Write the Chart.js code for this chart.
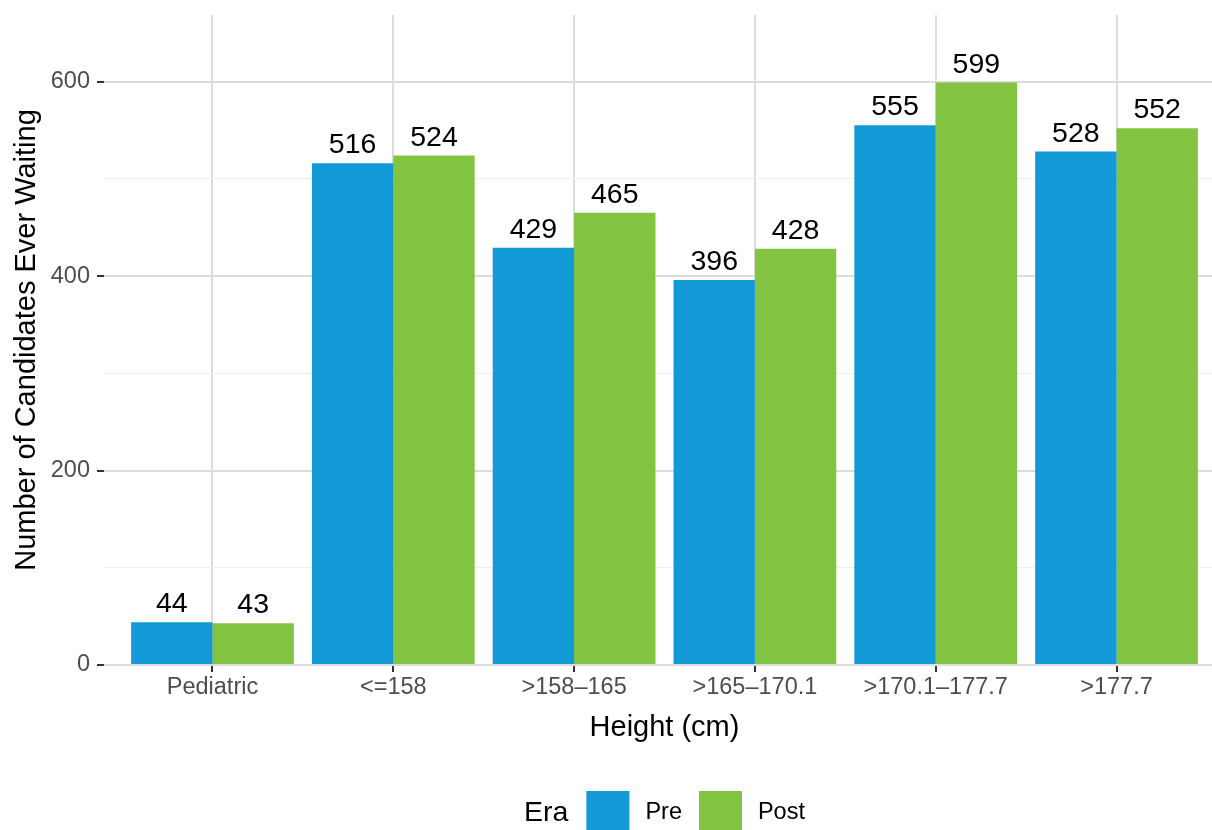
<!DOCTYPE html>
<html>
<head>
<meta charset="utf-8">
<script src="https://cdn.jsdelivr.net/npm/chart.js@4/dist/chart.umd.min.js"></script>
<style>
  html, body { margin: 0; padding: 0; background: #fff; overflow: hidden; }
  #chart { display: block; }
</style>
</head>
<body>
<canvas id="chart" width="1240" height="850" style="width:1240px;height:850px"></canvas>
<script>
"use strict";

const categories = ["Pediatric", "<=158", ">158\u2013165", ">165\u2013170.1", ">170.1\u2013177.7", ">177.7"];
const preValues = [44, 516, 429, 396, 555, 528];
const postValues = [43, 524, 465, 428, 599, 552];
const eraLabels = ["Pre", "Post"];
const yTicks = [0, 100, 200, 300, 400, 500, 600];
const yLabelStep = 200;

const FONT = '"Liberation Sans", Arial, Helvetica, sans-serif';
const colors = ["#1399d6", "#82c341"];
const majorGrid = "#dcdcdc";
const minorGrid = "#efefef";

function toPoints(values) {
  return values.map((value, index) => ({ x: index, y: value }));
}

const barLabels = {
  id: "barLabels",
  afterDatasetsDraw(chart) {
    const ctx = chart.ctx;
    ctx.save();
    ctx.font = `28.5px ${FONT}`;
    ctx.fillStyle = "#000";
    ctx.textAlign = "center";
    ctx.textBaseline = "alphabetic";
    chart.data.datasets.forEach((dataset, di) => {
      const meta = chart.getDatasetMeta(di);
      meta.data.forEach((bar, i) => {
        ctx.fillText(String(dataset.data[i].y), bar.x, bar.y - 10);
      });
    });
    ctx.restore();
  },
};

const eraLegend = {
  id: "eraLegend",
  afterDraw(chart) {
    const ctx = chart.ctx;
    const area = chart.chartArea;
    const keySize = 43;
    const keyTop = 791;
    const textY = 813;
    ctx.save();
    ctx.textBaseline = "middle";
    ctx.textAlign = "left";

    ctx.font = `28.5px ${FONT}`;
    const titleW = ctx.measureText("Era").width;
    ctx.font = `23.5px ${FONT}`;
    const labelW = eraLabels.map((label) => ctx.measureText(label).width);
    const total = titleW + 18 + labelW.reduce((sum, w) => sum + keySize + 16 + w, 0) + 17 * (eraLabels.length - 1);

    let x = (area.left + area.right) / 2 - total / 2;
    ctx.fillStyle = "#000";
    ctx.font = `28.5px ${FONT}`;
    ctx.fillText("Era", x, textY);
    x += titleW + 18;

    ctx.font = `23.5px ${FONT}`;
    eraLabels.forEach((label, i) => {
      ctx.fillStyle = colors[i];
      ctx.fillRect(x, keyTop, keySize, keySize);
      x += keySize + 16;
      ctx.fillStyle = "#000";
      ctx.fillText(label, x, textY);
      x += labelW[i] + 17;
    });
    ctx.restore();
  },
};

const isMajor = (value) => value % yLabelStep === 0;

new Chart(document.getElementById("chart"), {
  type: "bar",
  data: {
    datasets: [
      { label: eraLabels[0], data: toPoints(preValues), backgroundColor: colors[0] },
      { label: eraLabels[1], data: toPoints(postValues), backgroundColor: colors[1] },
    ],
  },
  options: {
    responsive: false,
    animation: false,
    devicePixelRatio: 1,
    categoryPercentage: 0.9,
    barPercentage: 1.0,
    layout: { padding: { left: 0, right: 15, top: 15, bottom: 95 } },
    plugins: {
      legend: { display: false },
      tooltip: { enabled: false },
    },
    scales: {
      x: {
        type: "linear",
        min: -0.6,
        max: 5.6,
        offset: false,
        afterBuildTicks: (scale) => {
          scale.ticks = categories.map((_, i) => ({ value: i }));
        },
        afterFit: (scale) => {
          scale.height = 90;
          scale.paddingLeft = 0;
          scale.paddingRight = 0;
        },
        border: { display: false },
        grid: {
          offset: false,
          color: majorGrid,
          lineWidth: 2,
          tickColor: "#333",
          tickWidth: 2,
          tickLength: 7,
        },
        ticks: {
          padding: 1,
          color: "#4d4d4d",
          font: { family: FONT, size: 23.5 },
          maxRotation: 0,
          autoSkip: false,
          callback: (value) => categories[value] ?? "",
        },
        title: {
          display: true,
          text: "Height (cm)",
          color: "#000",
          font: { family: FONT, size: 29 },
          padding: { top: 0, bottom: 9.6 },
        },
      },
      y: {
        min: 0,
        max: 668.5,
        afterBuildTicks: (scale) => {
          scale.ticks = yTicks.map((value) => ({ value }));
        },
        afterFit: (scale) => {
          scale.width = 104;
          scale.paddingTop = 0;
          scale.paddingBottom = 0;
        },
        border: { display: false },
        grid: {
          color: (ctx) => (isMajor(ctx.tick.value) ? majorGrid : minorGrid),
          lineWidth: (ctx) => (isMajor(ctx.tick.value) ? 2 : 1),
          tickColor: (ctx) => (isMajor(ctx.tick.value) ? "#333" : "rgba(0,0,0,0)"),
          tickWidth: 2,
          tickLength: 7,
        },
        ticks: {
          padding: 7,
          color: "#4d4d4d",
          font: { family: FONT, size: 23.5 },
          callback: (value) => (isMajor(value) ? String(value) : ""),
        },
        title: {
          display: true,
          text: "Number of Candidates Ever Waiting",
          color: "#000",
          font: { family: FONT, size: 29 },
          padding: { top: 9.6, bottom: 0 },
        },
      },
    },
  },
  plugins: [barLabels, eraLegend],
});
</script>
</body>
</html>
